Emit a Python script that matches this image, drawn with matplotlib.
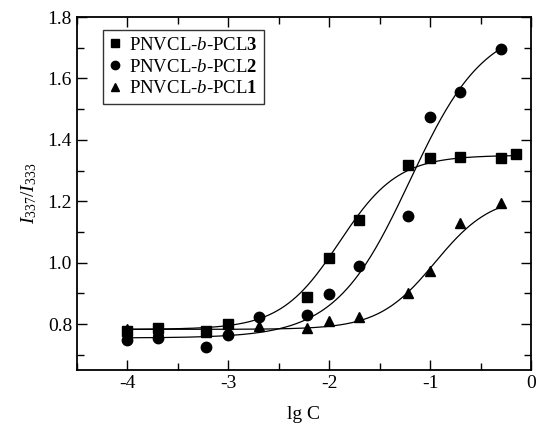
import numpy as np
import matplotlib
matplotlib.use("Agg")
import matplotlib.pyplot as plt
from matplotlib.ticker import MultipleLocator

plt.rcParams['font.family'] = ['Liberation Serif', 'DejaVu Serif']
plt.rcParams['mathtext.fontset'] = 'custom'
plt.rcParams['mathtext.rm'] = 'Liberation Serif'
plt.rcParams['mathtext.it'] = 'Liberation Serif:italic'
plt.rcParams['mathtext.bf'] = 'Liberation Serif:bold'
plt.rcParams['axes.unicode_minus'] = False

# measured points (lg C vs I337/I333)
x_pcl3 = [-4, -3.7, -3.22, -3, -2.22, -2, -1.7, -1.22, -1, -0.7, -0.3, -0.15]
y_pcl3 = [0.778, 0.787, 0.778, 0.80, 0.889, 1.015, 1.14, 1.318, 1.34, 1.344, 1.34, 1.354]

x_pcl2 = [-4, -3.7, -3.22, -3, -2.7, -2.22, -2, -1.7, -1.22, -1, -0.7, -0.3]
y_pcl2 = [0.748, 0.755, 0.725, 0.764, 0.823, 0.829, 0.898, 0.99, 1.152, 1.474, 1.556, 1.696]

x_pcl1 = [-4, -3.7, -3.22, -3, -2.7, -2.22, -2, -1.7, -1.22, -1, -0.7, -0.3]
y_pcl1 = [0.785, 0.78, 0.776, 0.78, 0.793, 0.787, 0.81, 0.823, 0.90, 0.973, 1.129, 1.194]

# Boltzmann fit parameters: A1, A2, x0, dx, x range of the fit line
fit_pcl3 = (0.783, 1.35, -1.90, 0.29, -4.0, -0.15)
fit_pcl2 = (0.755, 1.78, -1.20, 0.37, -4.0, -0.3)
fit_pcl1 = (0.783, 1.22, -0.95, 0.28, -4.0, -0.3)


def boltzmann(p):
    a1, a2, x0, dx, xs, xe = p
    xx = np.linspace(xs, xe, 300)
    return xx, a2 + (a1 - a2) / (1 + np.exp((xx - x0) / dx))


fig = plt.figure(figsize=(5.38, 4.26), dpi=100)
ax = fig.add_axes([0.143, 0.131, 0.844, 0.829])

for p in (fit_pcl3, fit_pcl2, fit_pcl1):
    xx, yy = boltzmann(p)
    ax.plot(xx, yy, color='black', linewidth=0.9, zorder=2)

ax.plot(x_pcl1, y_pcl1, '^', color='black', markersize=7.5, linestyle='none',
        label=r'PNVCL-$\it{b}$-PCL$\bf{1}$', zorder=3)
ax.plot(x_pcl2, y_pcl2, 'o', color='black', markersize=7.5, linestyle='none',
        label=r'PNVCL-$\it{b}$-PCL$\bf{2}$', zorder=3)
ax.plot(x_pcl3, y_pcl3, 's', color='black', markersize=6.5, linestyle='none',
        label=r'PNVCL-$\it{b}$-PCL$\bf{3}$', zorder=4)

ax.set_xlim(-4.5, 0)
ax.set_ylim(0.65, 1.8)
ax.xaxis.set_major_locator(MultipleLocator(1))
ax.xaxis.set_minor_locator(MultipleLocator(0.5))
ax.yaxis.set_major_locator(MultipleLocator(0.2))
ax.yaxis.set_minor_locator(MultipleLocator(0.1))
ax.set_yticks([0.8, 1.0, 1.2, 1.4, 1.6, 1.8])
ax.set_yticklabels(['0.8', '1.0', '1.2', '1.4', '1.6', '1.8'])
ax.set_xticks([-4, -3, -2, -1, 0])
ax.set_xticklabels(['-4', '-3', '-2', '-1', '0'])
ax.tick_params(which='both', direction='in', top=True, right=True, labelsize=14, width=1.0)
ax.tick_params(which='major', length=7)
ax.tick_params(which='minor', length=5)
for s in ax.spines.values():
    s.set_linewidth(1.3)

ax.set_xlabel('lg C', fontsize=14, labelpad=10)
ax.set_ylabel(r'$\it{I}_{337}/\it{I}_{333}$', fontsize=14, labelpad=6)

handles, labels = ax.get_legend_handles_labels()
leg = ax.legend(handles[::-1], labels[::-1], loc='upper left', bbox_to_anchor=(0.057, 0.963),
                fontsize=13.5, frameon=True, fancybox=False, edgecolor='black',
                markerscale=0.8, handlelength=0.6, handletextpad=0.45, borderpad=0.35,
                labelspacing=0.25, borderaxespad=0)
leg.get_frame().set_linewidth(1.0)

fig.savefig('out.png', dpi=100)
